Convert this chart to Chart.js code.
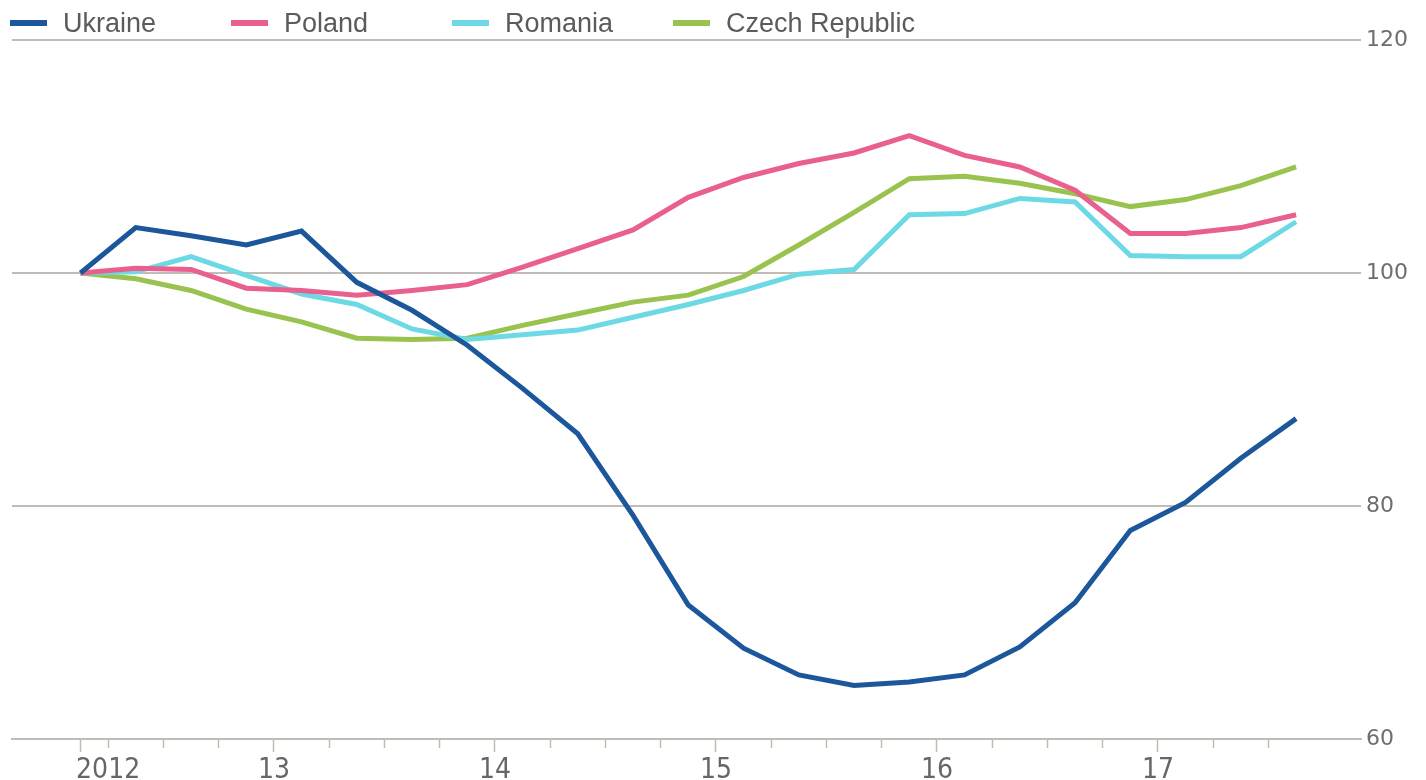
<!DOCTYPE html>
<html>
<head>
<meta charset="utf-8">
<script src="https://cdn.jsdelivr.net/npm/chart.js@4.4.1/dist/chart.umd.min.js"></script>
<style>
  html, body { margin: 0; padding: 0; background: #fff; }
  #wrap { position: relative; width: 1426px; height: 780px; }
  #legend { position: absolute; left: 10px; top: 7px; height: 32px; display: flex; z-index: 2; white-space: nowrap; }
  .lg-item { width: 221px; flex: none; display: flex; align-items: center; line-height: 32px;
             font-family: 'Liberation Sans', Arial, sans-serif; font-size: 27px; color: #5b5b5b; }
  .lg-item:last-child { width: 300px; }
  .lg-box { width: 37px; height: 6px; margin-right: 16px; flex: none; }
</style>
</head>
<body>
<div id="wrap">
  <div id="legend"></div>
  <canvas id="chart"></canvas>
</div>
<script>
// ── Datos (trimestrales, 2012 T1 → 2017 T3) ─────────────────────
var quarters = ['2012 Q1','2012 Q2','2012 Q3','2012 Q4',
                '2013 Q1','2013 Q2','2013 Q3','2013 Q4',
                '2014 Q1','2014 Q2','2014 Q3','2014 Q4',
                '2015 Q1','2015 Q2','2015 Q3','2015 Q4',
                '2016 Q1','2016 Q2','2016 Q3','2016 Q4',
                '2017 Q1','2017 Q2','2017 Q3'];

var ukraine = [100, 103.9, 103.2, 102.4, 103.6, 99.2, 96.8, 93.8, 90.1, 86.2, 79.2, 71.5,
               67.8, 65.5, 64.6, 64.9, 65.5, 67.9, 71.7, 77.9, 80.3, 84.1, 87.5];
var poland  = [100, 100.4, 100.3, 98.7, 98.5, 98.1, 98.5, 99.0, 100.5, 102.1, 103.7, 106.5,
               108.2, 109.4, 110.3, 111.8, 110.1, 109.1, 107.1, 103.4, 103.4, 103.9, 105.0];
var romania = [100, 100.1, 101.4, 99.8, 98.2, 97.3, 95.2, 94.3, 94.7, 95.1, 96.2, 97.3,
               98.5, 99.9, 100.3, 105.0, 105.1, 106.4, 106.1, 101.5, 101.4, 101.4, 104.4];
var czech   = [100, 99.5, 98.5, 96.9, 95.8, 94.4, 94.3, 94.4, 95.5, 96.5, 97.5, 98.1,
               99.7, 102.4, 105.2, 108.1, 108.3, 107.7, 106.8, 105.7, 106.3, 107.5, 109.1];

// posiciones de marcas del eje X (en índice de trimestre) y sus textos
var xTickValues = [0, 0.5, 1.5, 2.5, 3.5, 4.5, 5.5, 6.5, 7.5, 8.5, 9.5, 10.5, 11.5,
                   12.5, 13.5, 14.5, 15.5, 16.5, 17.5, 18.5, 19.5, 20.5, 21.5];
var xTickLabels = ['', '2012', '', '', '13', '', '', '', '14', '', '', '', '15',
                   '', '', '', '16', '', '', '', '17', '', ''];
var xMajorTicks = [0, 3.5, 7.5, 11.5, 15.5, 19.5];
var yTickValues = [60, 80, 100, 120];

var series = [
    { label: 'Ukraine',        data: ukraine, color: '#1c579b' },
    { label: 'Poland',         data: poland,  color: '#e9608e' },
    { label: 'Romania',        data: romania, color: '#6dd9e5' },
    { label: 'Czech Republic', data: czech,   color: '#9ac24f' }
];

var gridColor = '#c2bcb7';

// ── Leyenda HTML ───────────────────────────────────────────────
document.getElementById('legend').innerHTML = series.map(function(s) {
    return '<div class="lg-item"><span class="lg-box" style="background:' + s.color + '"></span>' + s.label + '</div>';
}).join('');

// ── Gráfico ────────────────────────────────────────────────────
new Chart(document.getElementById('chart'), {
    type: 'line',
    data: {
        datasets: series.map(function(s) {
            return {
                label: s.label,
                data: s.data.map(function(v, i) { return { x: i, y: v }; }),
                borderColor: s.color,
                backgroundColor: s.color,
                borderWidth: 5,
                pointRadius: 0,
                tension: 0,
                fill: false
            };
        })
    },
    options: {
        responsive: true,
        maintainAspectRatio: false,
        animation: false,
        layout: { padding: { left: 12, top: 40, right: 0, bottom: 0 } },
        plugins: { legend: { display: false }, tooltip: { enabled: false } },
        scales: {
            x: {
                type: 'linear',
                min: -1.24,
                max: 23.175,
                afterBuildTicks: function(s) { s.ticks = xTickValues.map(function(v) { return { value: v }; }); },
                afterFit: function(s) { s.height = 41; },
                border: { display: true, color: gridColor, width: 2 },
                grid: {
                    drawOnChartArea: false,
                    drawTicks: true,
                    tickLength: 13,
                    tickWidth: 1.5,
                    tickColor: gridColor,
                    tickBorderDash: function(ctx) {
                        return (ctx.tick && xMajorTicks.indexOf(ctx.tick.value) >= 0) ? [] : [8, 40];
                    }
                },
                ticks: {
                    autoSkip: false,
                    maxRotation: 0,
                    padding: 2,
                    color: '#666666',
                    font: { family: "'Liberation Sans Narrow', 'DejaVu Sans Condensed', sans-serif", size: 28 },
                    callback: function(v) { var k = xTickValues.indexOf(v); return k >= 0 ? xTickLabels[k] : ''; }
                }
            },
            y: {
                position: 'right',
                min: 60,
                max: 120,
                afterBuildTicks: function(s) { s.ticks = yTickValues.map(function(v) { return { value: v }; }); },
                afterFit: function(s) { s.width = 65; },
                border: { display: false },
                grid: { color: gridColor, lineWidth: 2, drawTicks: false },
                ticks: {
                    padding: 5,
                    color: '#6e6e6e',
                    font: { family: "'DejaVu Sans', sans-serif", size: 22 }
                }
            }
        }
    }
});
</script>
</body>
</html>
